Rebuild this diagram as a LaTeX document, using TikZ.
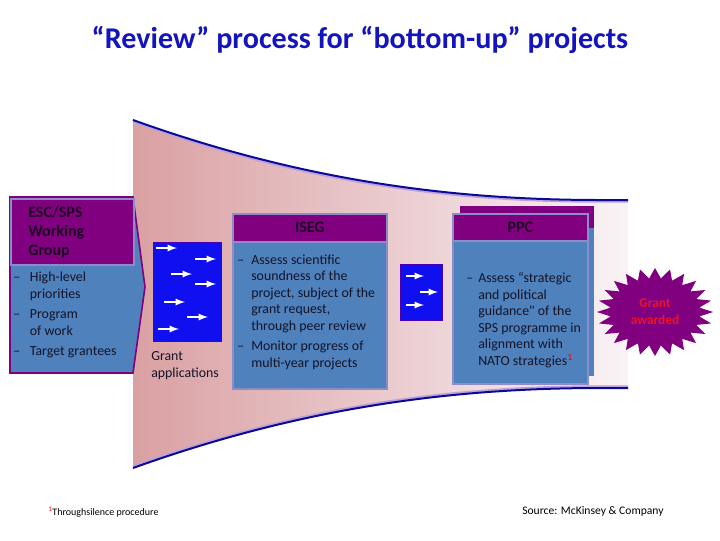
\documentclass[tikz,border=0pt]{standalone}
\usepackage{fontspec}
\setmainfont{Carlito}
\usetikzlibrary{shapes.geometric,arrows}
\definecolor{hdpurple}{RGB}{128,0,128}
\definecolor{bodyblue}{RGB}{79,129,189}
\definecolor{lavline}{RGB}{140,140,200}
\definecolor{appblue}{RGB}{15,15,240}
\definecolor{titleblue}{RGB}{20,20,190}
\definecolor{funline}{RGB}{10,10,150}
\definecolor{funlav}{RGB}{190,160,220}
\definecolor{funpink}{RGB}{218,160,163}
\definecolor{funwhite}{RGB}{249,243,245}
\definecolor{txtdark}{RGB}{20,20,40}
\definecolor{hdtxt}{RGB}{30,0,35}
\definecolor{awardred}{RGB}{235,20,40}
\newcommand{\dashit}[1]{\makebox[#1][l]{--}}
\newcommand{\indit}[1]{\hspace*{#1}}

\tikzset{
  header/.style={draw=lavline, line width=1.2pt, fill=hdpurple, anchor=north west,
    inner sep=0pt, text=hdtxt, font=\fontsize{12}{14.25}\selectfont\bfseries},
  bodybox/.style={draw=lavline, line width=1.2pt, fill=bodyblue, anchor=north west, inner sep=0pt},
  bodytext/.style={anchor=west, inner sep=0pt, align=left, text=txtdark,
    font=\fontsize{10.4}{12.4}\selectfont},
  appbox/.style={draw=hdpurple!60!blue, line width=0.6pt, fill=appblue, anchor=north west, inner sep=0pt},
  warrow/.style={->, >=latex, white, line width=1.4pt},
  funedge/.style={funline, line width=1.5pt},
}

\begin{document}
\begin{tikzpicture}[x=0.75pt, y=-0.75pt]
\fill[white] (0,0) rectangle (720,540);
\useasboundingbox (0,0) rectangle (720,540);
%
% funnel
\shade[left color=funpink, right color=funwhite] (133,120) .. controls (300,180) and (450,200) .. (600,200)
   -- (628,200) -- (628,388) -- (600,388) .. controls (450,388) and (300,408) .. (133,468) -- cycle;
\draw[funlav, line width=1.5pt, yshift=-1.3pt] (133,120) .. controls (300,180) and (450,200) .. (600,200) -- (628,200);
\draw[funlav, line width=1.5pt, yshift=1.3pt] (133,468) .. controls (300,408) and (450,388) .. (600,388) -- (628,388);
\draw[funedge] (133,120) .. controls (300,180) and (450,200) .. (600,200) -- (628,200);
\draw[funedge] (133,468) .. controls (300,408) and (450,388) .. (600,388) -- (628,388);
%
\node[font=\fontsize{22.6}{26}\selectfont\bfseries, text=titleblue] (title) at (360,40)
   {“Review” process for “bottom-up” projects};
%
% ESC/SPS working group
\filldraw[fill=bodyblue, draw=hdpurple, line width=1.2pt]
   (10,197) -- (133,197) -- (145,287) -- (133,373) -- (10,373) -- cycle;
\node[header, minimum width=92.25pt, minimum height=49.5pt, align=left, text width=66pt]
   (esc) at (10,198) {ESC/SPS\\Working\\Group};
\node[bodytext] (escitems) at (13,315) {%
   \dashit{12.5pt}High-level\\\indit{12.5pt}priorities\\[3pt]%
   \dashit{12.5pt}Program\\\indit{12.5pt}of work\\[3pt]%
   \dashit{12.5pt}Target grantees};
%
% grant applications
\node[appbox, minimum width=51pt, minimum height=74.25pt] (apps) at (153,242) {};
\foreach \dx/\dy in {3/6, 42/17, 18/32, 42/42, 11/60, 34/75, 5/87}
   \draw[warrow] ([shift={(\dx,\dy)}]apps.north west) -- ++(21,0);
\node[bodytext] (appstxt) at (151,365.5) {Grant\\applications};
%
% ISEG
\node[bodybox, minimum width=115.5pt, minimum height=110.25pt] (isegbody) at (232,241) {};
\node[header, minimum width=115.5pt, minimum height=21pt] (iseg) at (232,213) {ISEG};
\node[bodytext] (isegitems) at (237,312) {%
   \dashit{10.5pt}Assess scientific\\\indit{10.5pt}soundness of the\\\indit{10.5pt}project, subject of the\\%
   \indit{10.5pt}grant request,\\\indit{10.5pt}through peer review\\[3pt]%
   \dashit{10.5pt}Monitor progress of\\\indit{10.5pt}multi-year projects};
%
\node[appbox, minimum width=31.5pt, minimum height=42pt] (recs) at (400,264) {};
\foreach \dx/\dy in {6/12, 20/28, 6/41}
   \draw[warrow] ([shift={(\dx,\dy)}]recs.north west) -- ++(18,0);
%
% PPC
\fill[bodyblue] (460,206) rectangle (594,376);
\fill[hdpurple] (460,206) rectangle (594,228);
\node[bodybox, minimum width=101.25pt, minimum height=107.25pt] (ppcbody) at (452,240) {};
\node[header, minimum width=101.25pt, minimum height=20.25pt] (ppc) at (452,213) {PPC};
\node[bodytext] (ppcitems) at (466,320) {%
   \dashit{9pt}Assess “strategic\\\indit{9pt}and political\\\indit{9pt}guidance{\addfontfeature{Ligatures=TeXOff}"} of the\\%
   \indit{9pt}SPS programme in\\\indit{9pt}alignment with\\%
   \indit{9pt}NATO strategies\textsuperscript{\color{red}1}};
%
% award
\node[star, star points=24, star point ratio=1.3, fill=hdpurple, inner sep=0pt,
   minimum size=66pt, xscale=1.32] (award) at (655,312) {};
\node[align=center, text=awardred, font=\fontsize{10}{12.75}\selectfont\bfseries] (awardtxt)
   at (award.center) {Grant\\awarded};
%
\node[anchor=west, inner sep=0pt, font=\fontsize{7.5}{9}\selectfont] (fnote) at (48,512)
   {\textsuperscript{\color{red}1}Throughsilence procedure};
\node[anchor=west, inner sep=0pt, font=\fontsize{8.7}{10}\selectfont] (source) at (522,511)
   {Source: McKinsey \& Company};
\end{tikzpicture}
\end{document}
